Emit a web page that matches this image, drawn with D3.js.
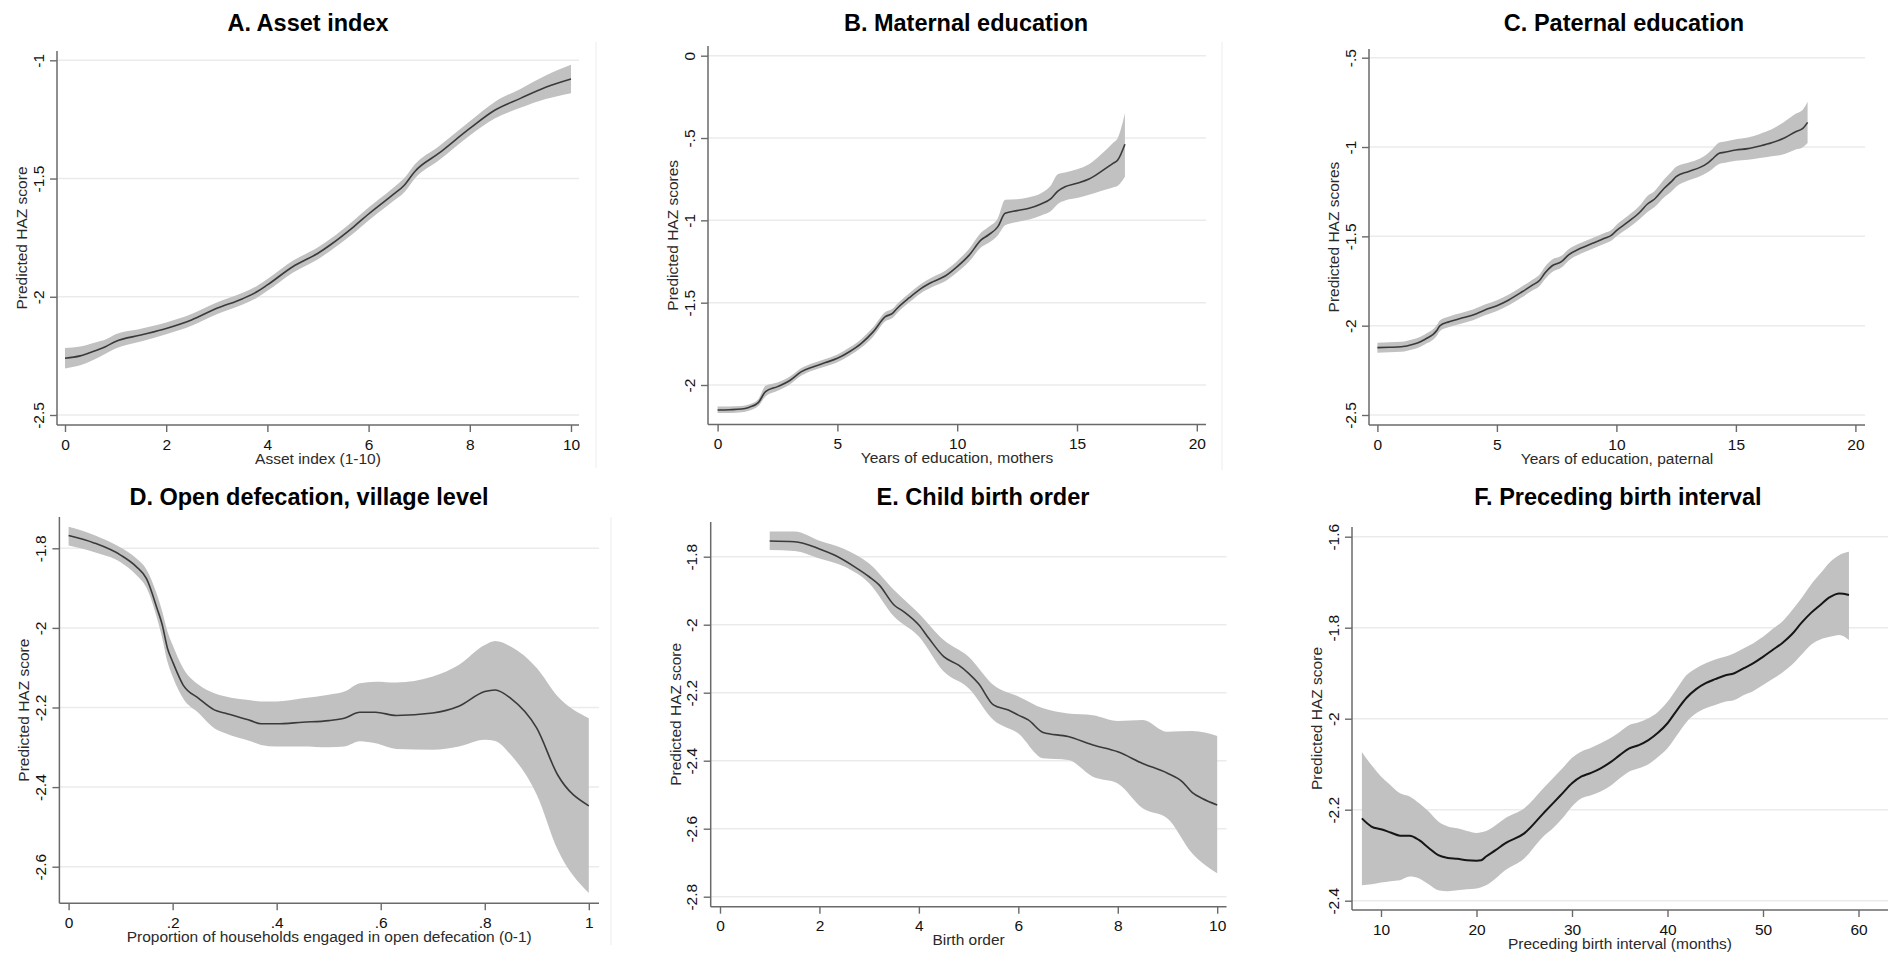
<!DOCTYPE html>
<html>
<head>
<meta charset="utf-8">
<script src="https://cdn.jsdelivr.net/npm/d3@7"></script>
<style>
  body { margin: 0; background: #fff; }
  svg { display: block; }
  text { font-family: "Liberation Sans", Arial, Helvetica, sans-serif; }
</style>
</head>
<body>
<svg id="fig" width="1888" height="955"></svg>
<script>
// ---------- A. Asset index ----------
const aX   = [0,0.3,0.6,0.8,1,1.5,2,2.5,3,3.5,3.8,4,4.5,5,5.24,5.71,6,6.47,6.71,6.91,7.39,8,8.5,9,9.5,10];
const aFit = [-2.260,-2.250,-2.228,-2.211,-2.189,-2.162,-2.134,-2.098,-2.049,-2.009,-1.978,-1.950,-1.873,-1.816,-1.781,-1.703,-1.650,-1.570,-1.527,-1.471,-1.393,-1.288,-1.210,-1.161,-1.114,-1.079];
const aLo  = [-2.303,-2.290,-2.263,-2.241,-2.219,-2.189,-2.159,-2.123,-2.074,-2.034,-2.003,-1.975,-1.898,-1.841,-1.806,-1.730,-1.677,-1.598,-1.557,-1.501,-1.423,-1.318,-1.245,-1.201,-1.164,-1.139];
const aHi  = [-2.217,-2.210,-2.193,-2.181,-2.159,-2.135,-2.109,-2.073,-2.024,-1.984,-1.953,-1.925,-1.848,-1.791,-1.756,-1.676,-1.623,-1.542,-1.497,-1.441,-1.363,-1.258,-1.175,-1.121,-1.064,-1.019];
const aXTicks = [0,2,4,6,8,10];
const aXTickLabels = ["0","2","4","6","8","10"];
const aYTicks = [-2.5,-2,-1.5,-1];
const aYTickLabels = ["-2.5","-2","-1.5","-1"];

// ---------- B. Maternal education ----------
const bX   = [0,0.5,1,1.3,1.7,2,2.5,3,3.5,4,4.5,5,5.5,6,6.5,7,7.3,7.5,8,8.5,9,9.5,10,10.5,11,11.3,11.7,12,12.5,13,13.5,13.9,14.2,14.5,15,15.5,16,16.5,16.7,17];
const bFit = [-2.152,-2.150,-2.146,-2.136,-2.107,-2.040,-2.010,-1.974,-1.919,-1.889,-1.864,-1.838,-1.798,-1.747,-1.676,-1.585,-1.565,-1.534,-1.470,-1.413,-1.372,-1.338,-1.281,-1.211,-1.119,-1.089,-1.038,-0.957,-0.941,-0.927,-0.901,-0.870,-0.822,-0.796,-0.775,-0.749,-0.704,-0.654,-0.634,-0.538];
const bLo  = [-2.170,-2.170,-2.165,-2.156,-2.128,-2.070,-2.035,-1.998,-1.942,-1.910,-1.887,-1.862,-1.823,-1.773,-1.705,-1.613,-1.593,-1.562,-1.498,-1.441,-1.402,-1.370,-1.315,-1.250,-1.164,-1.138,-1.090,-1.030,-1.010,-0.995,-0.970,-0.945,-0.900,-0.880,-0.865,-0.845,-0.822,-0.800,-0.790,-0.735];
const bHi  = [-2.130,-2.130,-2.128,-2.118,-2.086,-2.005,-1.985,-1.950,-1.896,-1.866,-1.842,-1.815,-1.773,-1.720,-1.648,-1.557,-1.537,-1.506,-1.442,-1.385,-1.342,-1.306,-1.247,-1.172,-1.074,-1.040,-0.985,-0.875,-0.872,-0.860,-0.835,-0.790,-0.720,-0.710,-0.690,-0.660,-0.600,-0.530,-0.500,-0.350];
const bXTicks = [0,5,10,15,20];
const bXTickLabels = ["0","5","10","15","20"];
const bYTicks = [-2,-1.5,-1,-0.5,0];
const bYTickLabels = ["-2","-1.5","-1","-.5","0"];

// ---------- C. Paternal education ----------
const cX   = [0,0.5,1,1.5,1.8,2,2.5,2.6,3,3.5,4,4.5,5,5.5,6,6.5,6.8,7,7.3,7.7,8,8.5,9,9.5,9.8,10,10.5,11,11.3,11.6,12,12.3,12.5,13,13.5,13.8,14,14.3,14.5,15,15.5,16,16.5,17,17.5,17.8,18];
const cFit = [-2.123,-2.121,-2.118,-2.104,-2.090,-2.076,-2.024,-2.002,-1.978,-1.959,-1.940,-1.912,-1.888,-1.856,-1.815,-1.772,-1.744,-1.707,-1.666,-1.642,-1.604,-1.567,-1.539,-1.511,-1.493,-1.468,-1.418,-1.362,-1.319,-1.291,-1.231,-1.194,-1.166,-1.138,-1.114,-1.091,-1.069,-1.035,-1.030,-1.017,-1.009,-0.994,-0.976,-0.951,-0.914,-0.896,-0.862];
const cLo  = [-2.151,-2.149,-2.146,-2.132,-2.118,-2.104,-2.054,-2.032,-2.008,-1.989,-1.970,-1.942,-1.918,-1.886,-1.845,-1.802,-1.776,-1.742,-1.701,-1.675,-1.636,-1.597,-1.569,-1.541,-1.523,-1.500,-1.453,-1.400,-1.364,-1.336,-1.281,-1.249,-1.222,-1.188,-1.164,-1.143,-1.124,-1.095,-1.090,-1.077,-1.071,-1.061,-1.051,-1.041,-1.014,-1.001,-0.977];
const cHi  = [-2.095,-2.093,-2.090,-2.076,-2.062,-2.048,-1.994,-1.972,-1.948,-1.929,-1.910,-1.882,-1.858,-1.826,-1.785,-1.742,-1.712,-1.672,-1.631,-1.609,-1.572,-1.537,-1.509,-1.481,-1.463,-1.436,-1.383,-1.324,-1.274,-1.246,-1.181,-1.139,-1.110,-1.088,-1.064,-1.039,-1.014,-0.975,-0.970,-0.957,-0.947,-0.927,-0.901,-0.861,-0.814,-0.791,-0.747];
const cXTicks = [0,5,10,15,20];
const cXTickLabels = ["0","5","10","15","20"];
const cYTicks = [-2.5,-2,-1.5,-1,-0.5];
const cYTickLabels = ["-2.5","-2","-1.5","-1","-.5"];

// ---------- D. Open defecation, village level ----------
const dX   = [0,0.05,0.1,0.13,0.15,0.17,0.18,0.19,0.2,0.22,0.25,0.28,0.3,0.35,0.37,0.4,0.45,0.5,0.53,0.56,0.59,0.63,0.7,0.75,0.8,0.82,0.85,0.9,0.94,1];
const dFit = [-1.768,-1.787,-1.817,-1.846,-1.877,-1.951,-1.992,-2.051,-2.085,-2.143,-2.177,-2.206,-2.214,-2.233,-2.241,-2.241,-2.237,-2.233,-2.227,-2.212,-2.212,-2.220,-2.214,-2.197,-2.160,-2.156,-2.177,-2.252,-2.369,-2.447];
const dLo  = [-1.793,-1.810,-1.835,-1.867,-1.900,-1.976,-2.026,-2.085,-2.122,-2.177,-2.214,-2.252,-2.264,-2.285,-2.294,-2.298,-2.298,-2.300,-2.298,-2.285,-2.290,-2.304,-2.306,-2.298,-2.281,-2.284,-2.319,-2.419,-2.557,-2.666];
const dHi  = [-1.746,-1.767,-1.798,-1.825,-1.854,-1.917,-1.959,-2.009,-2.043,-2.101,-2.143,-2.164,-2.172,-2.182,-2.185,-2.185,-2.177,-2.168,-2.160,-2.139,-2.135,-2.137,-2.122,-2.093,-2.043,-2.033,-2.047,-2.101,-2.172,-2.227];
const dXTicks = [0,0.2,0.4,0.6,0.8,1];
const dXTickLabels = ["0",".2",".4",".6",".8","1"];
const dYTicks = [-2.6,-2.4,-2.2,-2,-1.8];
const dYTickLabels = ["-2.6","-2.4","-2.2","-2","-1.8"];

// ---------- E. Child birth order ----------
const eX   = [1,1.5,2,2.3,2.7,3,3.2,3.5,3.7,4,4.2,4.5,4.8,5,5.2,5.5,5.8,6,6.2,6.5,7,7.5,8,8.5,9,9.3,9.5,9.7,10];
const eFit = [-1.754,-1.756,-1.777,-1.795,-1.829,-1.859,-1.883,-1.942,-1.962,-2.001,-2.040,-2.094,-2.119,-2.143,-2.173,-2.236,-2.251,-2.266,-2.280,-2.317,-2.329,-2.354,-2.374,-2.408,-2.437,-2.462,-2.494,-2.511,-2.530];
const eBandX = [1,1.5,2,2.5,3,3.5,4,4.5,5,5.5,6,6.5,7,7.5,8,8.5,9,9.5,10];
const eLo  = [-1.780,-1.783,-1.805,-1.829,-1.878,-1.976,-2.035,-2.138,-2.187,-2.280,-2.320,-2.393,-2.398,-2.447,-2.467,-2.540,-2.570,-2.673,-2.731];
const eHi  = [-1.726,-1.726,-1.753,-1.777,-1.820,-1.898,-1.967,-2.045,-2.094,-2.177,-2.211,-2.246,-2.261,-2.266,-2.283,-2.280,-2.315,-2.313,-2.327];
const eXTicks = [0,2,4,6,8,10];
const eXTickLabels = ["0","2","4","6","8","10"];
const eYTicks = [-2.8,-2.6,-2.4,-2.2,-2,-1.8];
const eYTickLabels = ["-2.8","-2.6","-2.4","-2.2","-2","-1.8"];

// ---------- F. Preceding birth interval ----------
const fX   = [8,9,10,11,12,13,14,15,16,17,18,19,20,20.5,21,22,23,25,27,28,29,30,31,32,33,34,35,36,37,38,39,40,41,42,43,44,45,46,47,48,49,50,51,52,53,54,55,56,57,58,59];
const fFit = [-2.219,-2.237,-2.243,-2.250,-2.257,-2.257,-2.267,-2.284,-2.300,-2.306,-2.308,-2.311,-2.312,-2.311,-2.303,-2.289,-2.274,-2.252,-2.208,-2.186,-2.164,-2.142,-2.127,-2.119,-2.109,-2.096,-2.080,-2.065,-2.058,-2.047,-2.031,-2.010,-1.981,-1.954,-1.935,-1.922,-1.913,-1.905,-1.900,-1.889,-1.878,-1.864,-1.849,-1.834,-1.815,-1.790,-1.768,-1.750,-1.733,-1.725,-1.728];
const fBandX = [8,9,10,11,12,13,14,15,16,17,18,19,20,21,22,23,25,27,28,29,30,31,32,33,34,35,36,37,38,39,40,41,42,43,44,45,46,47,48,49,50,51,52,53,54,55,56,57,58,59];
const fLo  = [-2.366,-2.364,-2.360,-2.357,-2.355,-2.347,-2.351,-2.364,-2.377,-2.379,-2.377,-2.375,-2.373,-2.366,-2.351,-2.333,-2.307,-2.259,-2.241,-2.219,-2.193,-2.175,-2.168,-2.160,-2.148,-2.131,-2.116,-2.109,-2.100,-2.084,-2.065,-2.036,-2.007,-1.988,-1.977,-1.970,-1.963,-1.959,-1.948,-1.939,-1.926,-1.913,-1.899,-1.882,-1.860,-1.838,-1.826,-1.820,-1.816,-1.827];
const fHi  = [-2.073,-2.102,-2.127,-2.146,-2.164,-2.171,-2.186,-2.204,-2.226,-2.237,-2.241,-2.247,-2.251,-2.247,-2.234,-2.219,-2.197,-2.153,-2.131,-2.109,-2.086,-2.072,-2.064,-2.054,-2.043,-2.029,-2.014,-2.008,-1.999,-1.985,-1.963,-1.933,-1.904,-1.889,-1.878,-1.870,-1.864,-1.856,-1.845,-1.834,-1.820,-1.803,-1.787,-1.763,-1.736,-1.706,-1.681,-1.656,-1.640,-1.633];
const fXTicks = [10,20,30,40,50,60];
const fXTickLabels = ["10","20","30","40","50","60"];
const fYTicks = [-2.4,-2.2,-2,-1.8,-1.6];
const fYTickLabels = ["-2.4","-2.2","-2","-1.8","-1.6"];

// ---------- panel layout (pixels) ----------
const panels = [
  { title: "A. Asset index", xLabel: "Asset index (1-10)", yLabel: "Predicted HAZ score",
    fx: aX, fy: aFit, bx: aX, lo: aLo, hi: aHi,
    xTicks: aXTicks, xTickLabels: aXTickLabels, yTicks: aYTicks, yTickLabels: aYTickLabels,
    box: { left: 57, right: 579, top: 51, bottom: 425 }, xPx: [65, 571], yPx: [415, 60.3],
    titleX: 308, titleY: 31, sep: { x: 596, y0: 42, y1: 468 } },
  { title: "B. Maternal education", xLabel: "Years of education, mothers", yLabel: "Predicted HAZ scores",
    fx: bX, fy: bFit, bx: bX, lo: bLo, hi: bHi,
    xTicks: bXTicks, xTickLabels: bXTickLabels, yTicks: bYTicks, yTickLabels: bYTickLabels,
    box: { left: 708, right: 1206, top: 46, bottom: 424.5 }, xPx: [717.6, 1196.8], yPx: [385, 55.7],
    titleX: 966, titleY: 31, sep: { x: 1222, y0: 42, y1: 470 } },
  { title: "C. Paternal education", xLabel: "Years of education, paternal", yLabel: "Predicted HAZ scores",
    fx: cX, fy: cFit, bx: cX, lo: cLo, hi: cHi,
    xTicks: cXTicks, xTickLabels: cXTickLabels, yTicks: cYTicks, yTickLabels: cYTickLabels,
    box: { left: 1369, right: 1865, top: 49, bottom: 425 }, xPx: [1377.4, 1855.4], yPx: [415, 57.7],
    titleX: 1624, titleY: 31 },
  { title: "D. Open defecation, village level", xLabel: "Proportion of households engaged in open defecation (0-1)", yLabel: "Predicted HAZ score",
    fx: dX, fy: dFit, bx: dX, lo: dLo, hi: dHi,
    xTicks: dXTicks, xTickLabels: dXTickLabels, yTicks: dYTicks, yTickLabels: dYTickLabels,
    box: { left: 59.4, right: 599, top: 517, bottom: 903.3 }, xPx: [68.6, 588.8], yPx: [866.7, 548.3],
    titleX: 309, titleY: 505, sep: { x: 611, y0: 517, y1: 945 } },
  { title: "E. Child birth order", xLabel: "Birth order", yLabel: "Predicted HAZ score",
    fx: eX, fy: eFit, bx: eBandX, lo: eLo, hi: eHi,
    xTicks: eXTicks, xTickLabels: eXTickLabels, yTicks: eYTicks, yTickLabels: eYTickLabels,
    box: { left: 710.7, right: 1226.5, top: 522, bottom: 906.7 }, xPx: [720, 1217.2], yPx: [896.7, 556.7],
    titleX: 983, titleY: 505 },
  { title: "F. Preceding birth interval", xLabel: "Preceding birth interval (months)", yLabel: "Predicted HAZ score",
    fx: fX, fy: fFit, bx: fBandX, lo: fLo, hi: fHi,
    xTicks: fXTicks, xTickLabels: fXTickLabels, yTicks: fYTicks, yTickLabels: fYTickLabels,
    box: { left: 1352, right: 1888, top: 527, bottom: 910 }, xPx: [1381, 1858.5], yPx: [900.7, 536.7],
    titleX: 1618, titleY: 505, lineColor: "#161616", lineWidth: 2 }
];

const svg = d3.select("#fig");
const AXIS = "#6a6a6a";

function drawPanel(p) {
  const g = svg.append("g");
  const b = p.box;
  const x = d3.scaleLinear().domain([p.xTicks[0], p.xTicks[p.xTicks.length - 1]]).range(p.xPx);
  const y = d3.scaleLinear().domain([p.yTicks[0], p.yTicks[p.yTicks.length - 1]]).range(p.yPx);

  // faint outer border of the sub-graph
  if (p.sep) {
    g.append("line").attr("x1", p.sep.x).attr("x2", p.sep.x)
      .attr("y1", p.sep.y0).attr("y2", p.sep.y1)
      .attr("stroke", "#ededed").attr("stroke-width", 1);
  }

  // horizontal grid lines at the y ticks
  g.append("g").selectAll("line").data(p.yTicks).join("line")
    .attr("x1", b.left).attr("x2", b.right)
    .attr("y1", d => y(d)).attr("y2", d => y(d))
    .attr("stroke", "#ebebeb").attr("stroke-width", 1.5);

  // confidence band
  const band = p.bx.map((v, i) => ({ x: v, lo: p.lo[i], hi: p.hi[i] }));
  g.append("path").datum(band)
    .attr("fill", "#c1c1c1")
    .attr("d", d3.area().curve(d3.curveMonotoneX)
      .x(d => x(d.x)).y0(d => y(d.lo)).y1(d => y(d.hi)));

  // fitted line
  const fit = p.fx.map((v, i) => ({ x: v, y: p.fy[i] }));
  g.append("path").datum(fit)
    .attr("fill", "none")
    .attr("stroke", p.lineColor || "#3a3a3a")
    .attr("stroke-width", p.lineWidth || 1.6)
    .attr("stroke-linejoin", "round")
    .attr("d", d3.line().curve(d3.curveMonotoneX).x(d => x(d.x)).y(d => y(d.y)));

  // y axis
  const ya = g.append("g").attr("transform", `translate(${b.left},0)`)
    .call(d3.axisLeft(y).tickValues(p.yTicks).tickFormat((d, i) => p.yTickLabels[i]).tickSize(7));
  ya.select(".domain").remove();
  ya.selectAll(".tick line").attr("stroke", AXIS).attr("stroke-width", 1.4);
  ya.selectAll(".tick text")
    .attr("x", null).attr("dy", null)
    .attr("text-anchor", "middle")
    .attr("transform", "translate(-13.5,0) rotate(-90)")
    .attr("fill", "#111").style("font-size", "15.5px");
  g.append("line").attr("x1", b.left).attr("x2", b.left).attr("y1", b.top).attr("y2", b.bottom)
    .attr("stroke", AXIS).attr("stroke-width", 1.5);

  // x axis
  const xa = g.append("g").attr("transform", `translate(0,${b.bottom})`)
    .call(d3.axisBottom(x).tickValues(p.xTicks).tickFormat((d, i) => p.xTickLabels[i]).tickSize(7));
  xa.select(".domain").remove();
  xa.selectAll(".tick line").attr("stroke", AXIS).attr("stroke-width", 1.4);
  xa.selectAll(".tick text")
    .attr("y", 24.5).attr("dy", null)
    .attr("fill", "#111").style("font-size", "15.5px");
  g.append("line").attr("x1", b.left).attr("x2", b.right).attr("y1", b.bottom).attr("y2", b.bottom)
    .attr("stroke", AXIS).attr("stroke-width", 1.5);

  // axis titles
  g.append("text")
    .attr("x", (b.left + b.right) / 2).attr("y", b.bottom + 38.5)
    .attr("text-anchor", "middle").attr("fill", "#2a2a2a").style("font-size", "15.5px")
    .text(p.xLabel);
  const yc = (b.top + b.bottom) / 2;
  g.append("text")
    .attr("transform", `translate(${b.left - 30},${yc}) rotate(-90)`)
    .attr("text-anchor", "middle").attr("fill", "#2a2a2a").style("font-size", "15.5px")
    .text(p.yLabel);

  // panel title
  g.append("text")
    .attr("x", p.titleX).attr("y", p.titleY)
    .attr("text-anchor", "middle").attr("fill", "#000")
    .style("font-size", "23.5px").style("font-weight", "bold")
    .text(p.title);
}

panels.forEach(drawPanel);
</script>
</body>
</html>
